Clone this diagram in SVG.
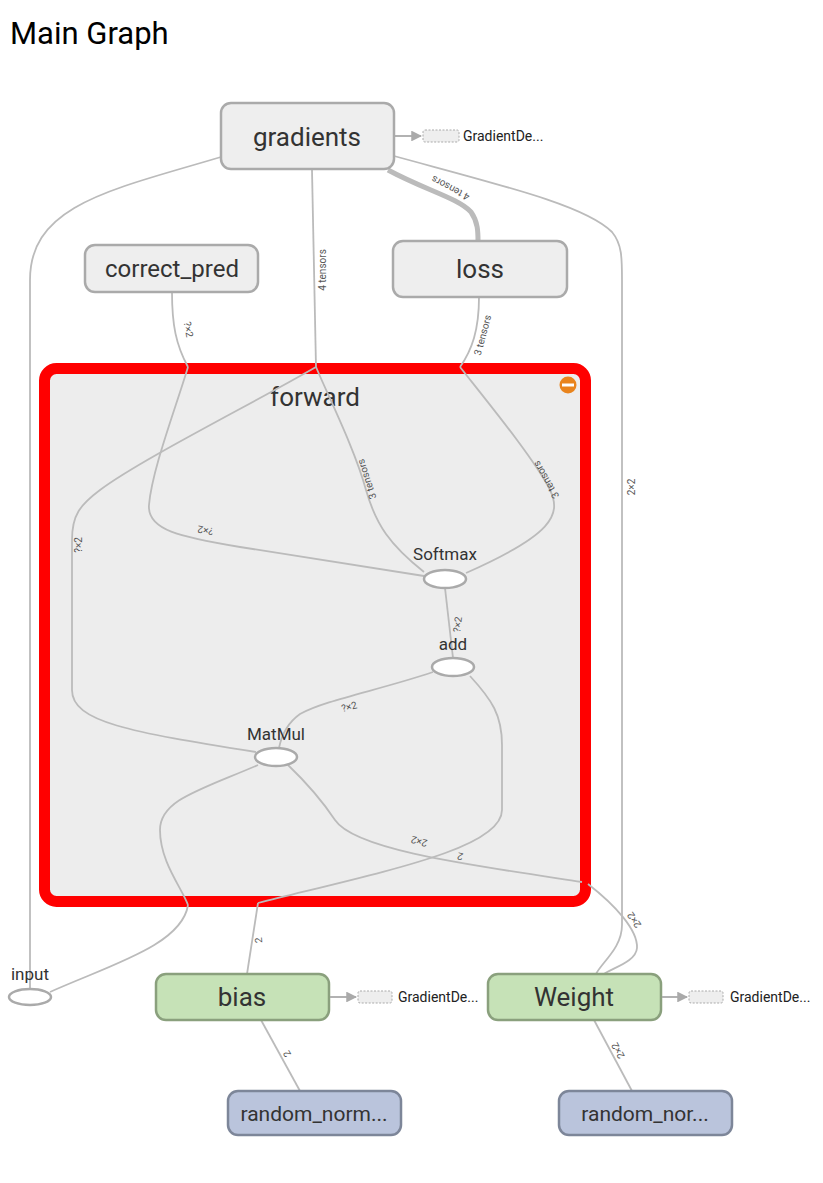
<svg xmlns="http://www.w3.org/2000/svg" width="823" height="1183" viewBox="0 0 823 1183">
<defs>
<marker id="ah" viewBox="0 0 10 10" refX="9" refY="5" markerWidth="6" markerHeight="6" orient="auto"><path d="M0,0 L10,5 L0,10 z" fill="#aaa"/></marker>
<style>
text{font-family:Roboto,"Liberation Sans",sans-serif;fill:#333}
.title{font-size:31px;fill:#000}
.meta{fill:#eeeeee;stroke:#aaaaaa;stroke-width:2.5}
.var{fill:#c6e2b7;stroke:#8aa07d;stroke-width:2.5}
.rnd{fill:#bac4dc;stroke:#7d8699;stroke-width:2.5}
.big{font-size:26px;text-anchor:middle}
.mid{font-size:24px;text-anchor:middle}
.rl{font-size:21px;text-anchor:middle}
.op{fill:#fff;stroke:#aaa;stroke-width:2.5}
.oplbl{font-size:17px;text-anchor:middle}
.e{fill:none;stroke:#bbb;stroke-width:1.8}
.el{font-size:10px;fill:#555;text-anchor:middle}
.dash{fill:#eee;stroke:#aaa;stroke-width:1;stroke-dasharray:2,1.5}
.gd{font-size:14px;fill:#222}
.al{stroke:#aaa;stroke-width:1.8;fill:none}
</style>
</defs>
<text class="title" x="10" y="44">Main Graph</text>

<g id="forward">
<rect x="44.5" y="368.5" width="541" height="533" rx="12" fill="#ededed" stroke="#ff0000" stroke-width="11"/>
<text class="big" x="315" y="406">forward</text>
<circle cx="568" cy="385" r="8.5" fill="#e9841d"/>
<rect x="562" y="383.5" width="12" height="3" fill="#fff"/>
</g>

<g id="connectors">
<path class="e" d="M221,157 C110,190 30,205 30,280 L30,988"/>
<path class="e" d="M312,170 L316,367"/>
<text class="el" transform="translate(326,270) rotate(-90)">4 tensors</text>
<path class="e" d="M316,367 C250,405 140,460 100,490 C80,505 72,515 72,540 L72,690 C72,722 130,732 256,752"/>
<text class="el" transform="translate(82,545) rotate(-90)">?×2</text>
<path class="e" d="M316,367 C330,400 355,450 366,490 C376,525 390,545 424,572"/>
<text class="el" transform="translate(370,478) rotate(-108)">3 tensors</text>
<path fill="none" stroke="#bbb" stroke-width="5" d="M388,170 C425,190 458,198 471,212 C478,222 478,232 478,241"/>
<text class="el" transform="translate(452,185) rotate(208)">4 tensors</text>
<path class="e" d="M394,156 C500,185 585,205 612,232 C622,244 622,258 622,280 L622,925 C622,948 602,962 596,974"/>
<text class="el" transform="translate(635,487) rotate(-90)">2×2</text>
<path class="e" d="M172,292 C172,325 176,345 188,367"/>
<text class="el" transform="translate(185,330) rotate(80)">?×2</text>
<path class="e" d="M188,367 C175,410 152,470 149,505 C147,530 180,537 240,547 L424,576"/>
<text class="el" transform="translate(206,527) rotate(190)">?×2</text>
<path class="e" d="M479,297 C479,330 472,350 460,367"/>
<text class="el" transform="translate(486,336) rotate(-75)">3 tensors</text>
<path class="e" d="M460,367 C490,405 535,460 550,490 C562,515 552,535 466,573"/>
<text class="el" transform="translate(549,478) rotate(-120)">3 tensors</text>
<path class="e" d="M445,588 L453,658"/>
<text class="el" transform="translate(461,625) rotate(-82)">?×2</text>
<path class="e" d="M433,672 C380,690 325,700 300,714 C286,724 281,738 279,748"/>
<text class="el" transform="translate(350,710) rotate(-15)">?×2</text>
<path class="e" d="M470,676 C492,700 502,715 502,745 L502,810 C502,848 390,870 258,903"/>
<path class="e" d="M258,903 L247,974"/>
<text class="el" transform="translate(262,940) rotate(-95)">2</text>
<path class="e" d="M258,765 C200,790 160,800 160,830 C160,862 182,888 188,905"/>
<path class="e" d="M188,905 C182,945 110,965 50,992"/>
<path class="e" d="M288,765 C312,788 325,805 335,820 C355,850 470,865 582,882"/>
<text class="el" transform="translate(420,838) rotate(195)">2×2</text>
<text class="el" transform="translate(461,853) rotate(195)">2</text>
<path class="e" d="M588,884 C615,905 638,930 637,948 C636,962 612,968 604,974"/>
<text class="el" transform="translate(637,918) rotate(235)">2×2</text>
<path class="e" d="M261,1020 L300,1091"/>
<text class="el" transform="translate(290,1052) rotate(240)">2</text>
<path class="e" d="M594,1020 L632,1091"/>
<text class="el" transform="translate(621,1049) rotate(242)">2×2</text>
</g>

<g id="gradients">
<rect class="meta" x="221" y="103" width="173" height="66" rx="10"/>
<text class="big" x="307" y="146">gradients</text>
<line class="al" x1="395" y1="136" x2="421" y2="136" marker-end="url(#ah)"/>
<rect class="dash" x="423" y="130" width="36" height="12" rx="2"/>
<text class="gd" x="463" y="141">GradientDe...</text>
</g>

<g id="correct_pred">
<rect class="meta" x="85" y="245" width="173" height="47" rx="10"/>
<text class="mid" x="172" y="277">correct_pred</text>
</g>

<g id="loss">
<rect class="meta" x="393" y="241" width="174" height="56" rx="10"/>
<text class="big" x="480" y="278">loss</text>
</g>

<g id="Softmax">
<ellipse class="op" cx="445" cy="579" rx="21" ry="9"/>
<text class="oplbl" x="445" y="560">Softmax</text>
</g>
<g id="add">
<ellipse class="op" cx="453" cy="667" rx="21" ry="9"/>
<text class="oplbl" x="453" y="650">add</text>
</g>
<g id="MatMul">
<ellipse class="op" cx="276" cy="757" rx="21" ry="9"/>
<text class="oplbl" x="276" y="740">MatMul</text>
</g>
<g id="input">
<ellipse class="op" cx="30" cy="997" rx="21" ry="8"/>
<text class="oplbl" x="30" y="980">input</text>
</g>

<g id="bias">
<rect class="var" x="156" y="974" width="173" height="46" rx="10"/>
<text class="big" x="242" y="1006">bias</text>
<line class="al" x1="330" y1="997" x2="356" y2="997" marker-end="url(#ah)"/>
<rect class="dash" x="358" y="991" width="34" height="12" rx="2"/>
<text class="gd" x="398" y="1002">GradientDe...</text>
</g>

<g id="Weight">
<rect class="var" x="488" y="974" width="173" height="46" rx="10"/>
<text class="big" x="574" y="1006">Weight</text>
<line class="al" x1="662" y1="997" x2="687" y2="997" marker-end="url(#ah)"/>
<rect class="dash" x="689" y="991" width="34" height="12" rx="2"/>
<text class="gd" x="730" y="1002">GradientDe...</text>
</g>

<g id="random_norm_bias">
<rect class="rnd" x="228" y="1091" width="173" height="44" rx="10"/>
<text class="rl" x="314" y="1121">random_norm...</text>
</g>
<g id="random_norm_weight">
<rect class="rnd" x="559" y="1091" width="173" height="44" rx="10"/>
<text class="rl" x="645" y="1121">random_nor...</text>
</g>
</svg>
